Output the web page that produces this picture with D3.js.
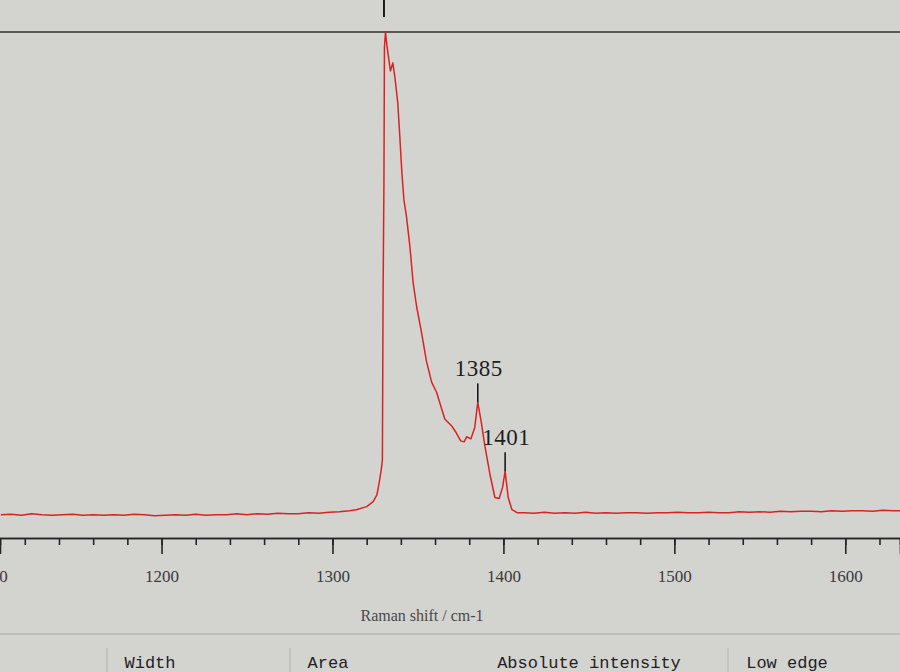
<!DOCTYPE html>
<html>
<head>
<meta charset="utf-8">
<script src="https://cdn.jsdelivr.net/npm/d3@7"></script>
<style>
  html, body { margin: 0; padding: 0; background: #d3d3d0; }
  svg { display: block; }
</style>
</head>
<body>
<div id="chart"></div>
<script>
// Raman spectrum, screen view
// Data
var shift = [
  1106, 1112, 1118, 1124, 1130, 1136, 1142, 1148, 1154, 1160, 1166, 1172,
  1178, 1184, 1190, 1196, 1202, 1208, 1214, 1220, 1226, 1232, 1238, 1244,
  1250, 1256, 1262, 1268, 1274, 1280, 1286, 1292, 1298, 1304, 1310, 1314,
  1320, 1323.8, 1326, 1327.3, 1328.5, 1329.2, 1329.6, 1330.1, 1330.4, 1331,
  1331.8, 1333, 1333.9, 1335.3, 1336.5, 1338.2, 1339.4, 1340.6, 1341.8,
  1343.3, 1345.3, 1347.2, 1349.2, 1352.1, 1355, 1358, 1360.9, 1363, 1365.7,
  1369.6, 1372, 1375, 1377, 1378.5, 1381, 1383.2, 1385, 1387, 1389, 1392,
  1395, 1397.5, 1399.5, 1401, 1402.8, 1405, 1408,
  1412, 1418, 1424, 1430, 1436, 1442, 1448, 1454, 1460, 1466, 1472, 1478,
  1484, 1490, 1496, 1502, 1508, 1514, 1520, 1526, 1532, 1538, 1544, 1550,
  1556, 1562, 1568, 1574, 1580, 1586, 1592, 1598, 1604, 1610, 1616, 1622,
  1628, 1633
];
var intensity = [
  4.6, 4.7, 4.5, 4.8, 4.6, 4.5, 4.6, 4.7, 4.5, 4.6, 4.5, 4.6,
  4.5, 4.7, 4.6, 4.4, 4.5, 4.6, 4.5, 4.7, 4.5, 4.6, 4.6, 4.8,
  4.6, 4.8, 4.7, 4.9, 4.8, 4.8, 5.0, 4.9, 5.1, 5.2, 5.4, 5.6,
  6.2, 7.2, 8.5, 10.9, 13.4, 15.4, 48, 70, 97, 100,
  97.5, 94.5, 92.3, 93.9, 91.1, 86, 79.3, 72.2, 66.8,
  63.5, 57.6, 50.4, 45.8, 40.6, 34.9, 30.8, 28.8, 26.5, 23.5,
  22.2, 21.0, 19.2, 19.0, 20.0, 19.6, 21.8, 26.8, 23.0, 18.5, 12.8,
  8.0, 7.8, 10.0, 13.2, 8.0, 5.6, 5.0,
  5.0, 4.9, 5.1, 4.9, 5.0, 4.9, 5.1, 4.9, 5.0, 4.9, 5.0, 5.0,
  4.9, 5.0, 5.0, 5.1, 5.0, 5.0, 5.1, 5.0, 5.0, 5.2, 5.1, 5.2,
  5.1, 5.3, 5.2, 5.3, 5.3, 5.2, 5.4, 5.3, 5.4, 5.4, 5.3, 5.5,
  5.4, 5.4
];
var peakLabels = [1385, 1401];
var mainPeak = 1331;
var tickLabels = [1100, 1200, 1300, 1400, 1500, 1600];
var headers = ["Width", "Area", "Absolute intensity", "Low edge"];

// Placement
var width = 900;
var height = 672;
var topY = 32;
var axisY = 538;

var svg = d3.select("#chart")
  .append("svg")
  .attr("width", width)
  .attr("height", height);

svg.append("rect")
  .attr("width", width)
  .attr("height", height)
  .attr("fill", "#d3d3d0");

// Scales
var xScale = d3.scaleLinear()
  .domain([1105.5, 1632])
  .range([0, width]);
var yScale = d3.scaleLinear()
  .domain([0, 100])
  .range([axisY, topY]);

// Top frame line
svg.append("line")
  .attr("x1", 0).attr("x2", width)
  .attr("y1", topY).attr("y2", topY)
  .attr("stroke", "#2e2e2e")
  .attr("stroke-width", 1.6);

// Minor ticks every 20, major every 100
var minorAxis = d3.axisBottom(xScale)
  .tickValues(d3.range(1100, 1640, 20))
  .tickSize(7)
  .tickFormat("");
var majorAxis = d3.axisBottom(xScale)
  .tickValues(tickLabels)
  .tickSize(16)
  .tickPadding(16)
  .tickFormat(d3.format("d"));

svg.append("g")
  .attr("class", "minorAxis")
  .attr("transform", "translate(0," + axisY + ")")
  .call(minorAxis);
svg.append("g")
  .attr("class", "majorAxis")
  .attr("transform", "translate(0," + axisY + ")")
  .call(majorAxis);

svg.selectAll(".minorAxis path, .majorAxis path")
  .attr("stroke", "#252525")
  .attr("stroke-width", 1.6);
svg.selectAll(".minorAxis line, .majorAxis line")
  .attr("stroke", "#252525")
  .attr("stroke-width", 1.6);
svg.selectAll(".majorAxis text")
  .attr("font-family", "'Liberation Serif', serif")
  .attr("font-size", 17)
  .attr("fill", "#3a3a3a");

// Axis title
svg.append("text")
  .attr("x", 422)
  .attr("y", 621)
  .attr("text-anchor", "middle")
  .attr("font-family", "'Liberation Serif', serif")
  .attr("font-size", 16)
  .attr("fill", "#4a4a4a")
  .text("Raman shift / cm-1");

// Spectrum
var spectrum = shift.map(function(d, i) {
  return { x: d, y: intensity[i] };
});
var line = d3.line()
  .x(function(d) { return xScale(d.x); })
  .y(function(d) { return yScale(d.y); });

svg.append("path")
  .datum(spectrum)
  .attr("d", line)
  .attr("fill", "none")
  .attr("stroke", "#d62424")
  .attr("stroke-width", 1.5)
  .attr("stroke-linejoin", "round");

// Main peak marker above the frame
svg.append("line")
  .attr("x1", xScale(mainPeak) - 1.5).attr("x2", xScale(mainPeak) - 1.5)
  .attr("y1", 0).attr("y2", 17)
  .attr("stroke", "#1a1a1a")
  .attr("stroke-width", 2);

// Peak labels
peakLabels.forEach(function(p) {
  var i = shift.indexOf(p);
  var py = yScale(intensity[i]);
  var px = xScale(p);
  svg.append("line")
    .attr("x1", px).attr("x2", px)
    .attr("y1", py - 19).attr("y2", py)
    .attr("stroke", "#1a1a1a")
    .attr("stroke-width", 1.6);
  svg.append("text")
    .attr("x", px + 1)
    .attr("y", py - 26)
    .attr("text-anchor", "middle")
    .attr("font-family", "'Liberation Serif', serif")
    .attr("font-size", 23)
    .attr("letter-spacing", 0.5)
    .attr("fill", "#1e1e1e")
    .text(p);
});

// Table header below the chart
svg.append("line")
  .attr("x1", 0).attr("x2", width)
  .attr("y1", 634).attr("y2", 634)
  .attr("stroke", "#a9a9a6")
  .attr("stroke-width", 1);

var colX = [150, 328, 589, 787];
var sepX = [107, 290, 728];
sepX.forEach(function(s) {
  svg.append("line")
    .attr("x1", s).attr("x2", s)
    .attr("y1", 648).attr("y2", height)
    .attr("stroke", "#b4b4b1")
    .attr("stroke-width", 1);
});
svg.selectAll("text.header")
  .data(headers)
  .enter()
  .append("text")
  .attr("class", "header")
  .attr("x", function(d, i) { return colX[i]; })
  .attr("y", 668)
  .attr("text-anchor", "middle")
  .attr("font-family", "'Liberation Mono', monospace")
  .attr("font-size", 17)
  .attr("fill", "#222")
  .text(function(d) { return d; });
</script>
</body>
</html>
